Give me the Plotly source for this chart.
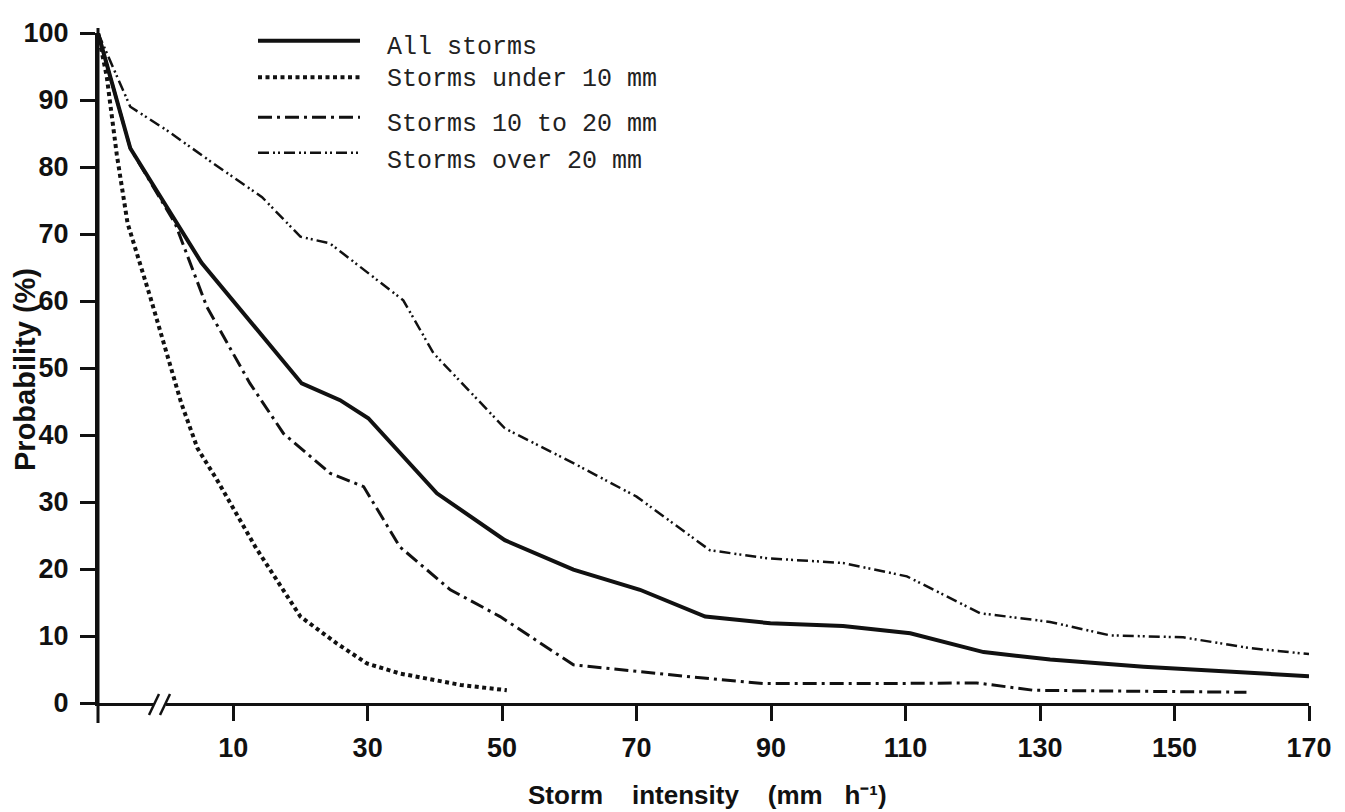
import plotly.graph_objects as go

# Exceedance probability curves (x in mm/h, y in %); the first point of each
# series sits at the axis origin, left of the axis break.
x_all = [-10.1, -5.3, 5.3, 20.2, 25.9, 30.1, 40.3, 50.4, 60.6, 70.5, 80.2, 89.9,
         100.7, 110.7, 121.6, 131.5, 145.4, 156.3, 170]
y_all = [100, 82.8, 65.7, 47.7, 45.2, 42.5, 31.3, 24.3, 19.9, 16.9, 12.9, 11.9,
         11.5, 10.4, 7.6, 6.5, 5.4, 4.8, 4.0]

x_under10 = [-10.1, -8.8, -7.3, -5.7, -2.3, 2.3, 4.7, 7.6, 13.3, 16.5, 20, 25.4,
             29.9, 34.8, 43.8, 50.7]
y_under10 = [100, 93.5, 81.8, 71.6, 60.5, 44.7, 38, 33.3, 23.3, 18.4, 12.9, 8.9,
             5.9, 4.4, 2.7, 1.9]

x_10to20 = [-10.1, -5.3, 1.4, 6.1, 12.5, 17.5, 24.4, 29.4, 34.8, 42.3, 49.7, 60.6,
            78, 88.9, 106.7, 120.6, 129, 160.7]
y_10to20 = [100, 82.8, 71.5, 59.1, 47.7, 40.2, 34.3, 32.3, 23.3, 16.9, 12.9, 5.7,
            3.9, 2.9, 2.9, 3.0, 1.9, 1.6]

x_over20 = [-10.1, -5.3, 0.1, 7.1, 14.3, 20, 24.4, 35.3, 39.8, 50.4, 60.6, 70,
            80.9, 89.4, 100.7, 110.2, 121.1, 131.5, 140.4, 151.3, 161.2, 170]
y_over20 = [100, 89, 85.5, 80.5, 75.5, 69.6, 68.6, 60.1, 52.2, 41, 35.8, 30.8,
            22.8, 21.6, 20.9, 18.9, 13.4, 12.1, 10.1, 9.8, 8.2, 7.3]

series_names = ["All storms", "Storms under 10 mm", "Storms 10 to 20 mm",
                "Storms over 20 mm"]

x_tick_vals = [10, 30, 50, 70, 90, 110, 130, 150, 170]
x_tick_text = ["10", "30", "50", "70", "90", "110", "130", "150", "170"]
y_tick_vals = [0, 10, 20, 30, 40, 50, 60, 70, 80, 90, 100]

INK = "#111111"
styles = [
    dict(width=4, dash="solid"),
    dict(width=4, dash="4px,3.5px"),
    dict(width=3, dash="14px,5px,3px,5px"),
    dict(width=2.5, dash="11px,4px,2px,3px,2px,4px"),
]

fig = go.Figure()
for (xs, ys), name, st in zip(
        [(x_all, y_all), (x_under10, y_under10), (x_10to20, y_10to20),
         (x_over20, y_over20)], series_names, styles):
    fig.add_trace(go.Scatter(x=xs, y=ys, mode="lines", name=name,
                             line=dict(color=INK, width=st["width"], dash=st["dash"]),
                             showlegend=False))

W, H = 1345, 812
L, R, T, B = 98, 36, 33, 109
pw, ph = W - L - R, H - T - B


def px(xp):
    return (xp - L) / pw


def py(yp):
    return (H - B - yp) / ph


shapes = []
annotations = []

# key at the top of the plot
key_rows = [40.7, 77.3, 117.3, 152.7]
text_rows = [47, 79, 124, 161]
for name, st, ly, ty in zip(series_names, styles, key_rows, text_rows):
    shapes.append(dict(type="line", xref="paper", yref="paper",
                       x0=px(258), x1=px(360), y0=py(ly), y1=py(ly),
                       line=dict(color=INK, width=st["width"], dash=st["dash"])))
    annotations.append(dict(text=name, xref="paper", yref="paper",
                            x=px(385), y=py(ty), xanchor="left", yanchor="middle",
                            showarrow=False,
                            font=dict(family="Liberation Mono, Courier New, monospace",
                                      size=25, color="#222222")))

# axis break marks on the x axis
shapes.append(dict(type="line", xref="paper", yref="paper", layer="above",
                   x0=px(154), x1=px(166), y0=py(703), y1=py(703),
                   line=dict(color="white", width=6)))
for x0 in (149, 160):
    shapes.append(dict(type="line", xref="paper", yref="paper", layer="above",
                       x0=px(x0), x1=px(x0 + 10), y0=py(715), y1=py(694),
                       line=dict(color=INK, width=2.5)))

# y axis line runs on past the origin, like an origin tick, and a bit above 100
shapes.append(dict(type="line", xref="paper", yref="paper", layer="above",
                   x0=0, x1=0, y0=py(723), y1=py(28),
                   line=dict(color=INK, width=3)))

BOLD = "Liberation Sans Narrow, Arial Narrow, Liberation Sans, Arial"
NB = "\u00a0"

annotations.append(dict(
    text="Storm" + NB * 4 + "intensity" + NB * 4 + "(mm" + NB * 3 + "h\u207b\u00b9)",
    xref="paper", yref="paper", x=px(707), y=py(795),
    xanchor="center", yanchor="middle", showarrow=False,
    font=dict(family="Liberation Sans, Arial", size=26, color=INK, weight="bold")))
annotations.append(dict(text="Probability (%)", xref="paper", yref="paper",
                        x=px(25), y=py(370), xanchor="center", yanchor="middle",
                        textangle=-90, showarrow=False,
                        font=dict(family=BOLD, size=29, color=INK, weight="bold")))

fig.update_layout(
    width=W, height=H,
    margin=dict(l=L, r=R, t=T, b=B, pad=0),
    paper_bgcolor="white", plot_bgcolor="white",
    shapes=shapes, annotations=annotations,
    xaxis=dict(range=[-10.1, 170], showgrid=False, zeroline=False,
               showline=True, linecolor=INK, linewidth=3,
               tickmode="array", tickvals=x_tick_vals, ticktext=x_tick_text,
               ticks="outside", ticklen=15, tickwidth=3, tickcolor=INK,
               ticklabelstandoff=4,
               tickfont=dict(family=BOLD, size=27, color=INK, weight="bold")),
    yaxis=dict(range=[0, 100], showgrid=False, zeroline=False,
               showline=True, linecolor=INK, linewidth=3,
               tickmode="array", tickvals=y_tick_vals,
               ticks="outside", ticklen=15, tickwidth=3, tickcolor=INK,
               ticklabelstandoff=6,
               tickfont=dict(family=BOLD, size=27, color=INK, weight="bold")),
)

fig.write_html("out.html")
